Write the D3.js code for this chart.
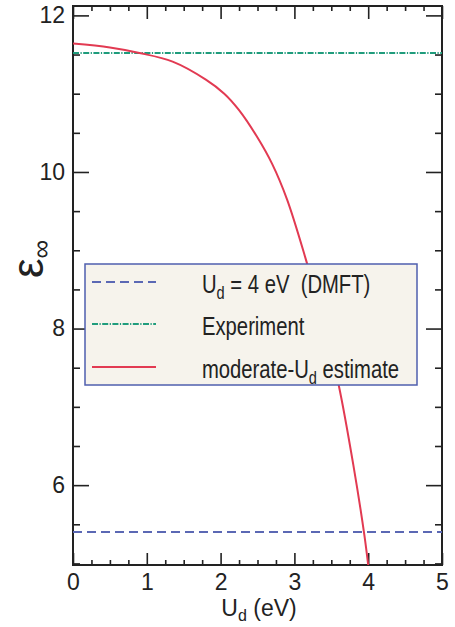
<!DOCTYPE html>
<html>
<head>
<meta charset="utf-8">
<script src="https://cdn.jsdelivr.net/npm/d3@7"></script>
<style>
  body { margin: 0; background: #fff; }
  text { font-family: 'Liberation Sans', Arial, sans-serif; fill: #222; }
</style>
</head>
<body>
<svg width="455" height="627"></svg>
<script>
'use strict'

// moderate-Ud estimate curve
const estU = [0, 0.5, 0.9, 1.35, 1.8, 2.05, 2.25, 2.5, 2.7, 2.9, 3.15, 3.4, 3.6, 3.8, 3.95, 4.0];
const estEps = [11.64, 11.59, 11.52, 11.41, 11.18, 11.0, 10.79, 10.44, 10.1, 9.65, 8.9, 8.06, 7.28, 6.25, 5.35, 4.98];

// horizontal reference lines
const dmftEps = 5.4;
const exptEps = 11.52;

const xMajor = [0, 1, 2, 3, 4, 5];
const yMajor = [6, 8, 10, 12];

let svg = d3.select('svg'),
    width = +svg.attr('width'),
    height = +svg.attr('height');

let x = d3.scaleLinear().domain([0, 5]).range([73, 442]);
let y = d3.scaleLinear().domain([4.98, 12.12]).range([565, 6]);

let xMinor = d3.range(0, 5.001, 0.25).filter(function(v) { return v % 1 !== 0; });
let yMinor = d3.range(5, 12.001, 0.5).filter(function(v) { return yMajor.indexOf(v) < 0; });

svg.append('defs').append('clipPath').attr('id', 'plot')
    .append('rect')
    .attr('x', x(0)).attr('y', y(12.12))
    .attr('width', x(5) - x(0)).attr('height', y(4.98) - y(12.12));

function styleAxis(g) {
    g.select('.domain').remove();
    g.selectAll('.tick line').attr('stroke', '#222').attr('stroke-width', 1.6);
    g.selectAll('.tick text').style('font-size', '23px').attr('fill', '#222');
}

// bottom
svg.append('g').attr('transform', 'translate(0,' + y.range()[0] + ')')
    .call(d3.axisBottom(x).tickValues(xMajor).tickSize(-12).tickPadding(9).tickFormat(d3.format('d')))
    .call(styleAxis);
svg.append('g').attr('transform', 'translate(0,' + y.range()[0] + ')')
    .call(d3.axisBottom(x).tickValues(xMinor).tickSize(-5).tickFormat(''))
    .call(styleAxis);
// top
svg.append('g').attr('transform', 'translate(0,' + y.range()[1] + ')')
    .call(d3.axisTop(x).tickValues(xMajor).tickSize(-13).tickFormat(''))
    .call(styleAxis);
svg.append('g').attr('transform', 'translate(0,' + y.range()[1] + ')')
    .call(d3.axisTop(x).tickValues(xMinor).tickSize(-5).tickFormat(''))
    .call(styleAxis);
// left
svg.append('g').attr('transform', 'translate(' + x.range()[0] + ',0)')
    .call(d3.axisLeft(y).tickValues(yMajor).tickSize(-16).tickPadding(8).tickFormat(d3.format('d')))
    .call(styleAxis);
svg.append('g').attr('transform', 'translate(' + x.range()[0] + ',0)')
    .call(d3.axisLeft(y).tickValues(yMinor).tickSize(-7).tickFormat(''))
    .call(styleAxis);
// right
svg.append('g').attr('transform', 'translate(' + x.range()[1] + ',0)')
    .call(d3.axisRight(y).tickValues(yMajor).tickSize(-16).tickFormat(''))
    .call(styleAxis);
svg.append('g').attr('transform', 'translate(' + x.range()[1] + ',0)')
    .call(d3.axisRight(y).tickValues(yMinor).tickSize(-7).tickFormat(''))
    .call(styleAxis);

// frame
svg.append('rect')
    .attr('x', x(0)).attr('y', y(12.12))
    .attr('width', x(5) - x(0)).attr('height', y(4.98) - y(12.12))
    .attr('fill', 'none').attr('stroke', '#222').attr('stroke-width', 2);

let lines = svg.append('g').attr('clip-path', 'url(#plot)');

lines.append('line')
    .attr('x1', x(0)).attr('x2', x(5))
    .attr('y1', y(dmftEps)).attr('y2', y(dmftEps))
    .attr('stroke', '#5b68b4').attr('stroke-width', 2)
    .attr('stroke-dasharray', '9,5');

lines.append('line')
    .attr('x1', x(0)).attr('x2', x(5))
    .attr('y1', y(exptEps)).attr('y2', y(exptEps))
    .attr('stroke', '#1f9c7c').attr('stroke-width', 2)
    .attr('stroke-dasharray', '6,1.5,1.2,1.5');

let est = estU.map(function(u, i) { return [u, estEps[i]]; });

lines.append('path')
    .datum(est)
    .attr('fill', 'none')
    .attr('stroke', '#e23a52')
    .attr('stroke-width', 2)
    .attr('d', d3.line()
        .x(function(d) { return x(d[0]); })
        .y(function(d) { return y(d[1]); })
        .curve(d3.curveCatmullRom.alpha(0.5)));

// legend
let legend = svg.append('g');
legend.append('rect')
    .attr('x', 85).attr('y', 264).attr('width', 332).attr('height', 121)
    .attr('fill', '#f6f3ec').attr('stroke', '#4f5fae').attr('stroke-width', 1.5);

let items = [
    { stroke: '#5b68b4', dash: '9,5', y: 282 },
    { stroke: '#1f9c7c', dash: '6,1.5,1.2,1.5', y: 324 },
    { stroke: '#e23a52', dash: null, y: 367 }
];
items.forEach(function(d) {
    legend.append('line')
        .attr('x1', 92).attr('x2', 156).attr('y1', d.y).attr('y2', d.y)
        .attr('stroke', d.stroke).attr('stroke-width', 2)
        .attr('stroke-dasharray', d.dash);
});

function legendText(yy) {
    return legend.append('text')
        .attr('transform', 'translate(202,' + (yy + 11) + ') scale(0.81,1)')
        .style('font-size', '25px')
        .style('white-space', 'pre');
}

let t1 = legendText(282);
t1.append('tspan').text('U');
t1.append('tspan').attr('dy', 6).style('font-size', '18px').text('d');
t1.append('tspan').attr('dy', -6).text(' = 4 eV  (DMFT)');

legendText(324).text('Experiment');

let t3 = legendText(367);
t3.append('tspan').text('moderate-U');
t3.append('tspan').attr('dy', 6).style('font-size', '18px').text('d');
t3.append('tspan').attr('dy', -6).text(' estimate');

// axis titles
let xl = svg.append('text')
    .attr('x', 259).attr('y', 616)
    .attr('text-anchor', 'middle')
    .style('font-size', '23px');
xl.append('tspan').text('U');
xl.append('tspan').attr('dy', 5).style('font-size', '16px').text('d');
xl.append('tspan').attr('dy', -5).style('white-space', 'pre').text(' (eV)');

let yl = svg.append('text')
    .attr('transform', 'translate(43,259) rotate(-90)')
    .attr('text-anchor', 'middle');
yl.append('tspan').style('font-size', '44px').text('ε');
yl.append('tspan').attr('dy', 7).style('font-size', '26px').text('∞');
</script>
</body>
</html>
